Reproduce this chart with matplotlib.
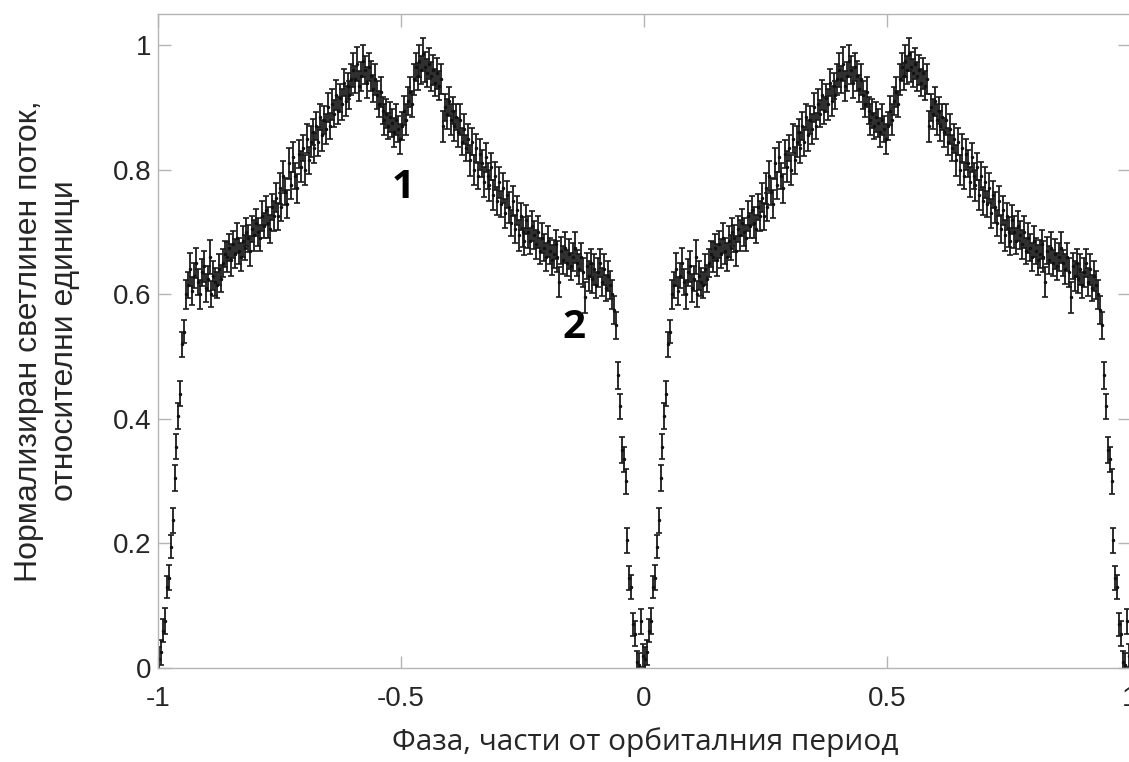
"""Phase-folded light curve of an eclipsing binary, two cycles shown."""
import numpy as np
import matplotlib
matplotlib.use("Agg")
import matplotlib.pyplot as plt

# one orbital cycle, phase step 0.004 starting at 0.002
phase_start = 0.002
phase_step = 0.004

flux = [
    0.015, 0.025, 0.060, 0.075, 0.130, 0.145, 0.195, 0.237, 0.305, 0.355,
    0.405, 0.440, 0.520, 0.540, 0.600, 0.615, 0.640, 0.605, 0.630, 0.650,
    0.620, 0.600, 0.635, 0.645, 0.610, 0.625, 0.660, 0.600, 0.630, 0.620,
    0.615, 0.640, 0.625, 0.650, 0.665, 0.660, 0.675, 0.655, 0.680, 0.665,
    0.690, 0.670, 0.660, 0.685, 0.675, 0.700, 0.690, 0.670, 0.705, 0.695,
    0.715, 0.700, 0.690, 0.725, 0.710, 0.735, 0.715, 0.705, 0.740, 0.725,
    0.755, 0.725, 0.770, 0.740, 0.790, 0.765, 0.745, 0.810, 0.775, 0.820,
    0.790, 0.770, 0.825, 0.805, 0.835, 0.800, 0.850, 0.815, 0.845, 0.860,
    0.835, 0.870, 0.845, 0.885, 0.855, 0.880, 0.865, 0.900, 0.870, 0.905,
    0.890, 0.920, 0.895, 0.915, 0.905, 0.940, 0.910, 0.935, 0.920, 0.945,
    0.960, 0.945, 0.970, 0.935, 0.950, 0.975, 0.960, 0.940, 0.965, 0.950,
    0.930, 0.945, 0.920, 0.905, 0.925, 0.895, 0.880, 0.890, 0.870, 0.885,
    0.875, 0.860, 0.880, 0.865, 0.850, 0.870, 0.895, 0.880, 0.910, 0.925,
    0.905, 0.945, 0.965, 0.950, 0.975, 0.960, 0.985, 0.965, 0.955, 0.970,
    0.950, 0.960, 0.940, 0.955, 0.935, 0.945, 0.870, 0.900, 0.890, 0.910,
    0.880, 0.895, 0.870, 0.885, 0.860, 0.880, 0.845, 0.865, 0.835, 0.850,
    0.815, 0.845, 0.800, 0.835, 0.790, 0.825, 0.810, 0.780, 0.820, 0.790,
    0.775, 0.805, 0.760, 0.790, 0.750, 0.780, 0.745, 0.770, 0.730, 0.760,
    0.740, 0.715, 0.750, 0.705, 0.735, 0.695, 0.725, 0.700, 0.685, 0.720,
    0.700, 0.685, 0.710, 0.695, 0.680, 0.700, 0.670, 0.690, 0.675, 0.660,
    0.685, 0.670, 0.655, 0.665, 0.680, 0.660, 0.620, 0.670, 0.655, 0.675,
    0.650, 0.665, 0.645, 0.660, 0.675, 0.650, 0.640, 0.660, 0.635, 0.595,
    0.645, 0.630, 0.650, 0.625, 0.640, 0.615, 0.635, 0.650, 0.620, 0.640,
    0.610, 0.630, 0.615, 0.600, 0.575, 0.550, 0.470, 0.420, 0.350, 0.335,
    0.300, 0.205, 0.145, 0.130, 0.070, 0.055, 0.010, 0.005, 0.075, 0.020,
]

# error bar half-lengths, thousandths of flux
err_milli = [
    18, 20, 19, 21, 18, 20, 19, 20, 21, 20,
    21, 20, 20, 19, 23, 21, 26, 22, 20, 24,
    21, 23, 22, 25, 23, 20, 27, 21, 23, 22,
    21, 25, 22, 23, 21, 24, 22, 25, 21, 23,
    24, 21, 22, 25, 20, 23, 22, 24, 21, 25,
    22, 23, 21, 24, 20, 23, 25, 22, 21, 24,
    23, 21, 25, 22, 24, 21, 23, 25, 22, 24,
    21, 23, 22, 25, 21, 24, 23, 22, 25, 21,
    24, 22, 23, 21, 25, 22, 24, 23, 21, 25,
    22, 24, 21, 23, 25, 22, 24, 21, 23, 25,
    28, 22, 27, 24, 23, 26, 22, 25, 23, 24,
    22, 25, 23, 21, 24, 22, 25, 23, 21, 24,
    22, 23, 25, 21, 24, 22, 23, 25, 22, 24,
    21, 25, 23, 22, 26, 23, 27, 24, 22, 25,
    23, 24, 22, 25, 23, 24, 25, 22, 24, 23,
    25, 22, 24, 21, 23, 25, 22, 24, 21, 23,
    25, 22, 24, 23, 21, 25, 22, 24, 23, 21,
    25, 22, 24, 23, 22, 25, 21, 24, 23, 22,
    25, 21, 24, 22, 23, 25, 21, 24, 22, 23,
    25, 21, 24, 22, 23, 25, 21, 24, 22, 23,
    25, 21, 24, 22, 23, 25, 24, 22, 23, 25,
    21, 24, 22, 23, 25, 21, 24, 22, 23, 25,
    21, 24, 22, 23, 25, 21, 24, 22, 23, 25,
    21, 24, 22, 23, 22, 21, 22, 20, 21, 20,
    20, 20, 19, 20, 19, 20, 18, 19, 20, 19,
]

x_ticks = [-1, -0.5, 0, 0.5, 1]
x_tick_labels = ["-1", "-0.5", "0", "0.5", "1"]
y_ticks = [0, 0.2, 0.4, 0.6, 0.8, 1.0]
y_tick_labels = ["0", "0.2", "0.4", "0.6", "0.8", "1"]

x_label = "Фаза, части от орбиталния период"
y_label = "Нормализиран светлинен поток,\nотносителни единици"
marks = [("1", -0.495, 0.772), ("2", -0.144, 0.546)]


def main() -> None:
    flux_arr = np.array(flux)
    err_arr = np.array(err_milli) / 1000.0
    phase = phase_start + phase_step * np.arange(len(flux_arr))

    fig = plt.figure(figsize=(11.29, 7.62), dpi=100)
    ax = fig.add_axes([158 / 1129, 1 - 668 / 762, (1130 - 158) / 1129, (668 - 14) / 762])

    # the same cycle is drawn twice, at phase - 1 and at phase
    for shift in (-1.0, 0.0):
        ax.errorbar(
            phase + shift, flux_arr, yerr=err_arr,
            fmt=".", color="#111111", markersize=3,
            ecolor="#1a1a1a", elinewidth=1.3, capsize=2.5, capthick=1.2,
        )

    for label, mx, my in marks:
        ax.text(mx, my, label, fontsize=29, fontweight="bold", family="Open Sans",
                ha="center", va="center", color="black")

    ax.set_xlim(-1, 1)
    ax.set_ylim(0, 1.05)
    ax.set_xticks(x_ticks)
    ax.set_xticklabels(x_tick_labels)
    ax.set_yticks(y_ticks)
    ax.set_yticklabels(y_tick_labels)

    for spine in ax.spines.values():
        spine.set_color("#b4b4b4")
        spine.set_linewidth(1.0)
    ax.tick_params(direction="in", length=9, width=1.0, color="#b4b4b4",
                   top=True, right=True, labelsize=20, labelcolor="#262626")
    ax.tick_params(axis="x", pad=13)
    ax.tick_params(axis="y", pad=5)
    for lab in ax.get_xticklabels() + ax.get_yticklabels():
        lab.set_family("Liberation Sans")

    fig.text(645 / 1129, 1 - 742 / 762, x_label, ha="center", va="center",
             fontsize=21.5, family="Open Sans", color="#262626")
    fig.text(47 / 1129, 1 - 341 / 762, y_label, ha="center", va="center",
             rotation=90, fontsize=23, family="Liberation Sans", color="#262626",
             multialignment="center", linespacing=1.25)

    fig.savefig("out.png", dpi=100)


if __name__ == "__main__":
    main()
